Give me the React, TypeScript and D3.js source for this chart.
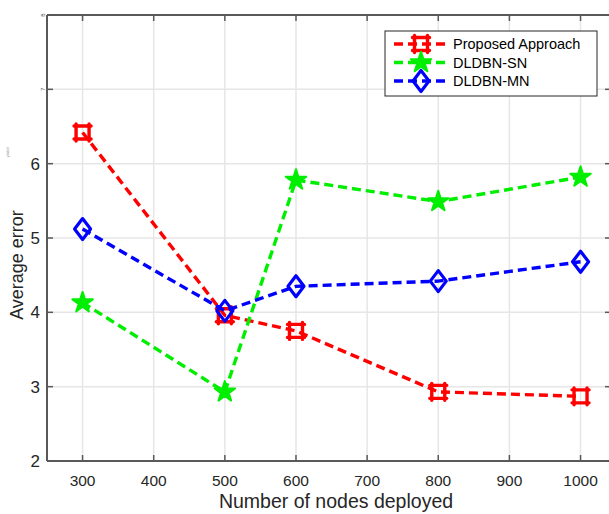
import React from "react";
import * as d3 from "d3";

const nodes = [300, 500, 600, 800, 1000];
const proposed = [6.42, 3.96, 3.75, 2.93, 2.87];
const dldbnSN = [4.13, 2.93, 5.78, 5.49, 5.82];
const dldbnMN = [5.12, 4.02, 4.35, 4.42, 4.68];
const xTicks = [300, 400, 500, 600, 700, 800, 900, 1000];
const yTicks = [2, 3, 4, 5, 6, 7, 8];
const seriesNames = ["Proposed Approach", "DLDBN-SN", "DLDBN-MN"];
const seriesColors = ["#ff0000", "#00ee00", "#0000ff"];
const seriesMarkers = ["square", "star", "diamond"];

const W = 609, H = 514;
const L = 47, R = 609, T = 15, B = 461;

function Marker({ type, x, y, color }: { type: string; x: number; y: number; color: string }) {
  if (type === "square") {
    const s = 6.5, e = 2;
    const d = `M${-s - e},${-s}L${s + e},${-s}M${-s - e},${s}L${s + e},${s}M${-s},${-s - e}L${-s},${s + e}M${s},${-s - e}L${s},${s + e}`;
    return <path d={d} transform={`translate(${x},${y})`} fill="none" stroke={color} strokeWidth={3.4} strokeLinecap="round" />;
  }
  if (type === "star") {
    const p = d3.symbol().type(d3.symbolStar).size(130)() as string;
    return <path d={p} transform={`translate(${x},${y})`} fill={color} stroke={color} strokeWidth={2} strokeLinejoin="round" />;
  }
  const hw = 8, hh = 10.5;
  return <path d={`M0,${-hh}L${hw},0L0,${hh}L${-hw},0Z`} transform={`translate(${x},${y})`} fill="none" stroke={color} strokeWidth={3.2} strokeLinejoin="round" />;
}

export default function App() {
  const x = d3.scaleLinear().domain([250, 1040]).range([L, R]);
  const y = d3.scaleLinear().domain([2, 8]).range([B, T]);
  const data = [proposed, dldbnSN, dldbnMN];
  const line = d3.line<number>().x((_, i) => x(nodes[i])).y((v) => y(v));
  const font = "'Liberation Sans', Arial, sans-serif";
  const tickColor = "#262626";
  const axisColor = "#595959";

  return (
    <svg width={W} height={H} style={{ position: "absolute", left: 0, top: 0, background: "#fff" }} fontFamily={font}>
      {xTicks.map((t) => (
        <line key={"gx" + t} x1={x(t)} x2={x(t)} y1={T} y2={B} stroke="#e6e6e6" strokeWidth={1.5} />
      ))}
      {yTicks.map((t) => (
        <line key={"gy" + t} x1={L} x2={R} y1={y(t)} y2={y(t)} stroke="#e6e6e6" strokeWidth={1.5} />
      ))}
      <line x1={L} x2={R} y1={B} y2={B} stroke={axisColor} strokeWidth={2} />
      <line x1={L} x2={R} y1={T} y2={T} stroke={axisColor} strokeWidth={2} />
      <line x1={L} x2={L} y1={T} y2={B} stroke={axisColor} strokeWidth={2} />
      {xTicks.map((t) => (
        <g key={"tx" + t}>
          <line x1={x(t)} x2={x(t)} y1={B} y2={B - 6} stroke={axisColor} strokeWidth={1.5} />
          <line x1={x(t)} x2={x(t)} y1={T} y2={T + 6} stroke={axisColor} strokeWidth={1.5} />
          <text x={x(t)} y={B + 25} textAnchor="middle" fontSize={15.5} fill={tickColor}>{t}</text>
        </g>
      ))}
      {yTicks.map((t) => (
        <g key={"ty" + t}>
          <line x1={L} x2={L + 6} y1={y(t)} y2={y(t)} stroke={axisColor} strokeWidth={1.5} />
          <line x1={R} x2={R - 4} y1={y(t)} y2={y(t)} stroke={axisColor} strokeWidth={1.5} />
          {t >= 7 ? (
            <text x={43} y={y(t) + 2} textAnchor="middle" fontSize={6} fill="#555" transform={`rotate(-90,43,${y(t)})`}>{t}</text>
          ) : (
            <text x={40} y={y(t) + 6} textAnchor="end" fontSize={17} fill={tickColor}>{t}</text>
          )}
        </g>
      ))}
      <text x={9} y={152} fontSize={4} fill="#999" textAnchor="middle" transform="rotate(-90,9,152)">ylabel</text>
      <text x={336} y={508} textAnchor="middle" fontSize={19.5} fill={tickColor}>Number of nodes deployed</text>
      <text x={0} y={0} textAnchor="middle" fontSize={18} fill={tickColor} transform={`translate(23,265) rotate(-90)`}>Average error</text>
      {data.map((vals, si) => (
        <g key={"s" + si}>
          <path d={line(vals) as string} fill="none" stroke={seriesColors[si]} strokeWidth={3.4} strokeDasharray="9 5" />
          {vals.map((v, i) => (
            <Marker key={i} type={seriesMarkers[si]} x={x(nodes[i])} y={y(v)} color={seriesColors[si]} />
          ))}
        </g>
      ))}
      <g>
        <rect x={385} y={31} width={212} height={65} fill="#fff" stroke="#262626" strokeWidth={1} />
        {seriesNames.map((n, i) => {
          const ly = 44 + i * 18.5;
          return (
            <g key={"l" + i}>
              <line x1={394} x2={448} y1={ly} y2={ly} stroke={seriesColors[i]} strokeWidth={3.4} strokeDasharray="9 5" />
              <Marker type={seriesMarkers[i]} x={421} y={ly} color={seriesColors[i]} />
              <text x={453} y={ly + 5} fontSize={14.5} fill="#000">{n}</text>
            </g>
          );
        })}
      </g>
    </svg>
  );
}
